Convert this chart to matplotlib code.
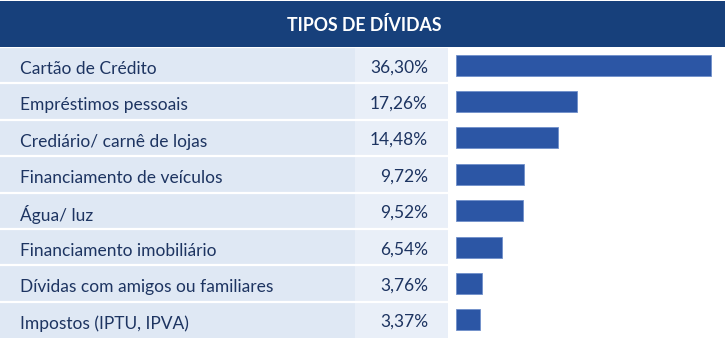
import matplotlib.pyplot as plt
from matplotlib.patches import Rectangle

categorias = ['Cartão de Crédito', 'Empréstimos pessoais', 'Crediário/ carnê de lojas',
              'Financiamento de veículos', 'Água/ luz', 'Financiamento imobiliário',
              'Dívidas com amigos ou familiares', 'Impostos (IPTU, IPVA)']
valores = [36.30, 17.26, 14.48, 9.72, 9.52, 6.54, 3.76, 3.37]
rotulos = ['36,30%', '17,26%', '14,48%', '9,72%', '9,52%', '6,54%', '3,76%', '3,37%']
titulo = 'TIPOS DE DÍVIDAS'

W, H = 725, 339
azul_escuro = '#17407b'
azul_barra = '#2c56a5'
fundo_rotulo = '#dfe8f4'
fundo_valor = '#e9eff8'
cor_texto = '#1d3461'

plt.rcParams['font.family'] = ['Lato', 'DejaVu Sans']

fig = plt.figure(figsize=(W / 100, H / 100), dpi=100)

# header
axh = fig.add_axes([0, 0, 1, 1])
axh.set_xlim(0, W)
axh.set_ylim(H, 0)
axh.axis('off')
axh.add_patch(Rectangle((0, 1), W, 46, color=azul_escuro, lw=0))
axh.text(364, 25, titulo, color='white', fontsize=12.8, fontweight='bold',
         ha='center', va='center')

# table rows
top, bot = 47, 338
n = len(categorias)
ax = fig.add_axes([0, 1 - bot / H, 1, (bot - top) / H])
ax.set_xlim(0, W)
ax.set_ylim(n - 0.5, -0.5)
ax.axis('off')
for i, (cat, rot) in enumerate(zip(categorias, rotulos)):
    ax.add_patch(Rectangle((0, i - 0.5), 355, 1, color=fundo_rotulo, lw=0))
    ax.add_patch(Rectangle((355, i - 0.5), 93, 1, color=fundo_valor, lw=0))
    ax.axhline(i - 0.5, color='white', lw=1.6)
    ax.text(20, i + 0.1, cat, color=cor_texto, fontsize=12.5, ha='left', va='center')
    ax.text(428, i + 0.06, rot, color=cor_texto, fontsize=12.5, ha='right', va='center')

# bars
x0, x1 = 456, 711
axb = fig.add_axes([x0 / W, 1 - bot / H, (W - x0) / W, (bot - top) / H])
axb.set_xlim(0, valores[0] * (W - x0) / (x1 - x0))
axb.set_ylim(n - 0.5, -0.5)
axb.barh(range(n), valores, height=0.58, color=azul_barra, edgecolor='#6f8fcb', lw=0.6)
axb.axis('off')

fig.savefig('out.png', dpi=100, facecolor='white')
